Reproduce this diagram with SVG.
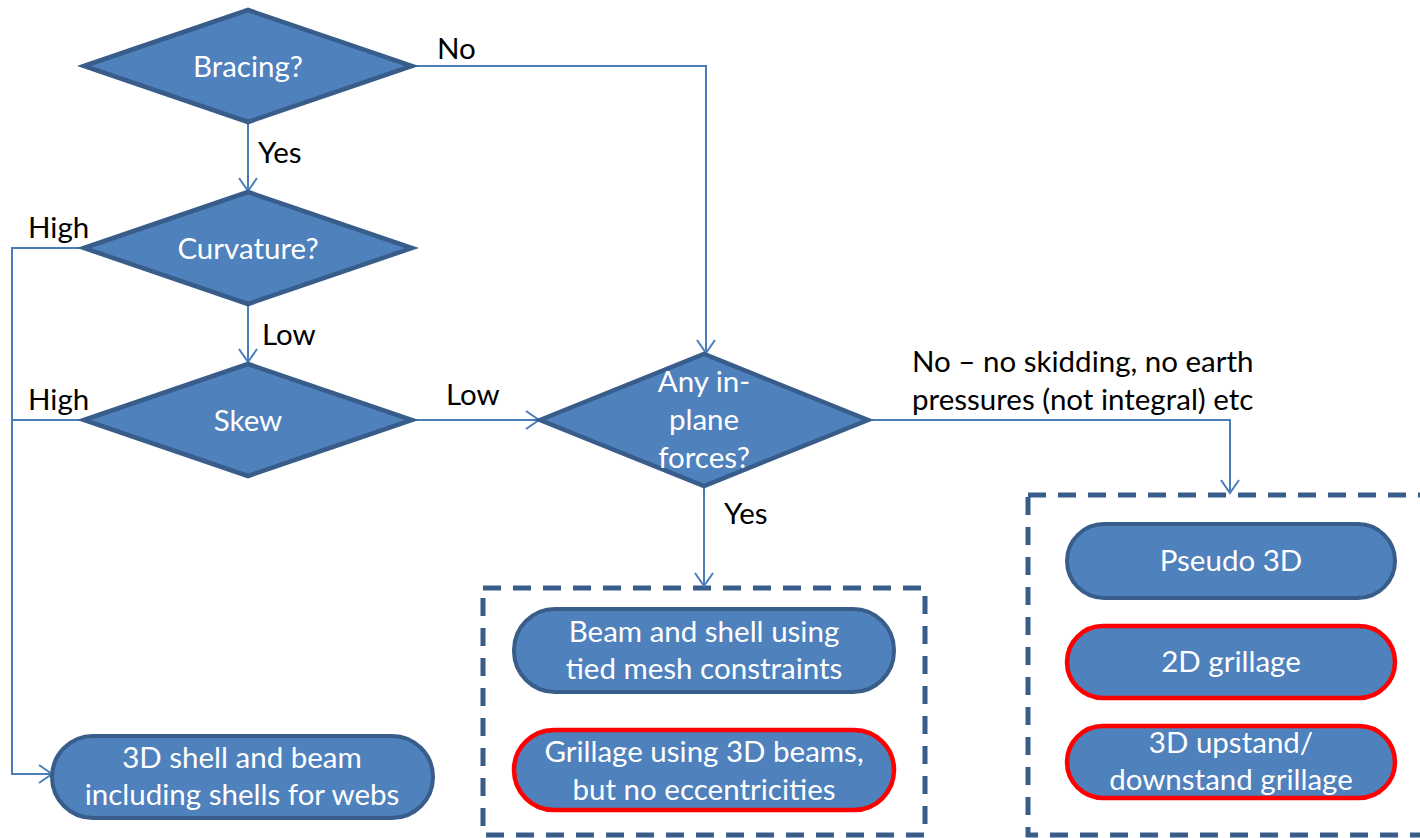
<svg xmlns="http://www.w3.org/2000/svg" width="1420" height="838" viewBox="0 0 1420 838">
<style>
.dia{fill:#4F81BD;stroke:#385D8A;stroke-width:4.5;stroke-linejoin:miter}
.term{fill:#4F81BD;stroke:#385D8A;stroke-width:4}
.term.red{stroke:#FF0000;stroke-width:4.5}
.grp{fill:none;stroke:#385D8A;stroke-width:5;stroke-dasharray:18 12}
.wt{font-family:Lato,"Open Sans",sans-serif;font-size:29.5px;fill:#FFFFFF;text-anchor:middle}
.lb{font-family:Lato,"Open Sans",sans-serif;font-size:29.5px;fill:#000000}
.con{fill:none;stroke:#4A7EBB;stroke-width:2}
</style>
<defs>
<marker id="arr" markerWidth="16" markerHeight="20" refX="14" refY="10" orient="auto" markerUnits="userSpaceOnUse">
<path d="M1,1 L14,10 L1,19" fill="none" stroke="#4A7EBB" stroke-width="2"/>
</marker>
</defs>
<g id="group-inplane"><rect class="grp" x="483" y="588" width="442" height="247"/></g>
<g id="group-noinplane"><rect class="grp" x="1028" y="495" width="420" height="340"/></g>
<g id="connectors">
<polyline class="con" points="412,66 706,66 706,353" marker-end="url(#arr)"/>
<text class="lb" x="437" y="59">No</text>
<polyline class="con" points="248,122 248,191" marker-end="url(#arr)"/>
<text class="lb" x="258" y="163">Yes</text>
<polyline class="con" points="248,304 248,362" marker-end="url(#arr)"/>
<text class="lb" x="262" y="345">Low</text>
<polyline class="con" points="84,248 12,248 12,774 52,774" marker-end="url(#arr)"/>
<text class="lb" x="28" y="238">High</text>
<polyline class="con" points="84,420 12,420"/>
<text class="lb" x="28" y="410">High</text>
<polyline class="con" points="412,420 539,420" marker-end="url(#arr)"/>
<text class="lb" x="446" y="405">Low</text>
<polyline class="con" points="868,420 1230,420 1230,493" marker-end="url(#arr)"/>
<text class="lb" x="912" y="372">No – no skidding, no earth</text>
<text class="lb" x="912" y="410">pressures (not integral) etc</text>
<polyline class="con" points="704,485 704,586" marker-end="url(#arr)"/>
<text class="lb" x="724" y="524">Yes</text>
</g>
<g id="bracing"><polygon class="dia" points="84,66 248,10 412,66 248,122"/><text class="wt" x="248" y="77">Bracing?</text></g>
<g id="curvature"><polygon class="dia" points="84,248 248,192 412,248 248,304"/><text class="wt" x="248" y="259">Curvature?</text></g>
<g id="skew"><polygon class="dia" points="84,420 248,364 412,420 248,476"/><text class="wt" x="248" y="431">Skew</text></g>
<g id="inplane"><polygon class="dia" points="540,420 704,354 868,420 704,486"/>
<text class="wt" x="704" y="392">Any in-</text><text class="wt" x="704" y="430">plane</text><text class="wt" x="704" y="468">forces?</text></g>
<g id="shell3d"><rect class="term" x="52" y="736" width="381" height="82" rx="41"/>
<text class="wt" x="242" y="768">3D shell and beam</text><text class="wt" x="242" y="805">including shells for webs</text></g>
<g id="beamshell"><rect class="term" x="514" y="609" width="380" height="83" rx="41"/>
<text class="wt" x="704" y="642">Beam and shell using</text><text class="wt" x="704" y="679">tied mesh constraints</text></g>
<g id="grillage3d"><rect class="term red" x="514" y="730" width="380" height="80" rx="40"/>
<text class="wt" x="704" y="762">Grillage using 3D beams,</text><text class="wt" x="704" y="800">but no eccentricities</text></g>
<g id="pseudo3d"><rect class="term" x="1067" y="524" width="328" height="74" rx="37"/>
<text class="wt" x="1231" y="571">Pseudo 3D</text></g>
<g id="grillage2d"><rect class="term red" x="1067" y="626" width="328" height="72" rx="36"/>
<text class="wt" x="1231" y="672">2D grillage</text></g>
<g id="upstand"><rect class="term red" x="1067" y="726" width="328" height="72" rx="36"/>
<text class="wt" x="1231" y="753">3D upstand/</text><text class="wt" x="1231" y="790">downstand grillage</text></g>
</svg>
